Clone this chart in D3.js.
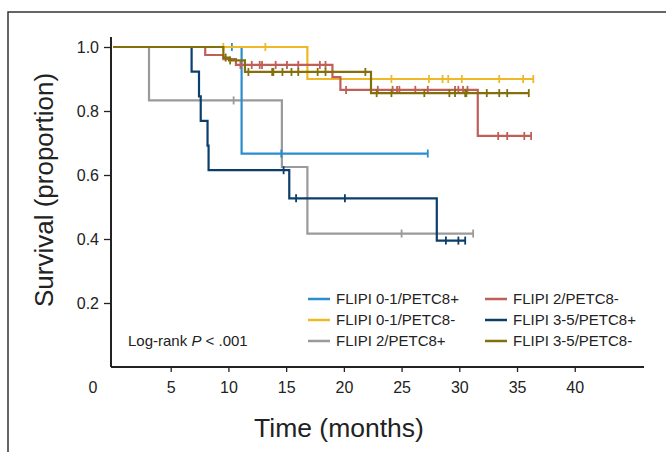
<!DOCTYPE html>
<html>
<head>
<meta charset="utf-8">
<script src="https://cdn.jsdelivr.net/npm/d3@7"></script>
<style>
  body { margin: 0; background: #fff; }
  svg text { font-family: "Liberation Sans", Arial, sans-serif; fill: #222; }
  .narrow { font-family: "Liberation Sans Narrow", "Arial Narrow", "Liberation Sans", sans-serif; }
</style>
</head>
<body>
<div id="chart"></div>
<script>
// survival steps: time (months) and proportion after each step, plus censor times
const blue_t = [0, 11.14];
const blue_s = [1, 0.667];
const blue_c = [10.3, 14.58, 27.27];

const yellow_t = [0, 16.84];
const yellow_s = [1, 0.9];
const yellow_c = [9.56, 13.2, 24.12, 27.37, 28.55, 29.04, 30.22, 33.46, 35.53, 36.41];

const grey_t = [0, 3.12, 14.63, 16.84];
const grey_s = [1, 0.833, 0.625, 0.417];
const grey_c = [10.45, 25.0, 31.2];

const red_t = [0, 7.99, 9.56, 10.65, 19.01, 19.7, 31.6];
const red_s = [1, 0.975, 0.962, 0.944, 0.906, 0.866, 0.722];
const red_c = [11.04, 12.02, 12.71, 12.91, 14.09, 15.07, 16.05, 17.92, 18.41,
  20.19, 22.94, 24.22, 24.61, 24.81, 26.19, 27.27, 29.63, 29.92, 30.32, 30.71,
  33.37, 34.15, 35.63, 36.22];

const navy_t = [0, 6.81, 7.45, 7.6, 8.19, 8.28, 15.27, 28.05];
const navy_s = [1, 0.923, 0.846, 0.769, 0.692, 0.615, 0.527, 0.395];
const navy_c = [14.78, 15.86, 20.09, 28.84, 29.92, 30.51];

const olive_t = [0, 9.56, 10.06, 11.43, 22.35];
const olive_s = [1, 0.967, 0.958, 0.922, 0.856];
const olive_c = [9.76, 10.15, 11.73, 13.79, 13.89, 14.68, 15.46, 16.05, 17.73, 18.41, 21.86,
  22.84, 24.12, 26.97, 29.14, 29.63, 30.51, 30.61, 32.38, 33.46, 34.15, 36.02];

const x_ticks = [5, 10, 15, 20, 25, 30, 35, 40];
const y_ticks = [0.2, 0.4, 0.6, 0.8, 1.0];

const series = [
  {name: 'FLIPI 2/PETC8+', color: '#9a9a9a', t: grey_t, s: grey_s, c: grey_c},
  {name: 'FLIPI 0-1/PETC8+', color: '#2a8dcf', t: blue_t, s: blue_s, c: blue_c},
  {name: 'FLIPI 0-1/PETC8-', color: '#efb826', t: yellow_t, s: yellow_s, c: yellow_c},
  {name: 'FLIPI 2/PETC8-', color: '#bf5f58', t: red_t, s: red_s, c: red_c},
  {name: 'FLIPI 3-5/PETC8+', color: '#0c3e6c', t: navy_t, s: navy_s, c: navy_c},
  {name: 'FLIPI 3-5/PETC8-', color: '#83700b', t: olive_t, s: olive_s, c: olive_c}
];
const legend_order = [
  ['FLIPI 0-1/PETC8+', 'FLIPI 0-1/PETC8-', 'FLIPI 2/PETC8+'],
  ['FLIPI 2/PETC8-', 'FLIPI 3-5/PETC8+', 'FLIPI 3-5/PETC8-']
];

const width = 666, height = 452;
const x = d3.scaleLinear().domain([0, 46]).range([113, 644]);
const y = d3.scaleLinear().domain([0, 1]).range([367, 47]);
const y_axis_x = 111;

const svg = d3.select('#chart').append('svg')
  .attr('width', width)
  .attr('height', height);

// outer frame (top and left only)
svg.append('path')
  .attr('d', 'M8,452 L8,12 L666,12')
  .attr('fill', 'none')
  .attr('stroke', '#333')
  .attr('stroke-width', 1.5);

// axes
const y_ax = svg.append('g')
  .attr('transform', 'translate(' + y_axis_x + ',0)')
  .call(d3.axisLeft(y).tickValues(y_ticks).tickSize(7).tickFormat(d3.format('.1f')));
y_ax.select('.domain').attr('d', 'M0,37 L0,' + y(0));

const x_ax = svg.append('g')
  .attr('transform', 'translate(0,' + y(0) + ')')
  .call(d3.axisBottom(x).tickValues(x_ticks).tickSize(5).tickSizeOuter(0));
x_ax.select('.domain').attr('d', 'M' + y_axis_x + ',0 L' + x.range()[1] + ',0');

svg.selectAll('.tick text').style('font-size', '16px').attr('fill', '#222');
svg.selectAll('.domain').attr('stroke', '#222').attr('stroke-width', 2);
svg.selectAll('.tick line').attr('stroke', '#222').attr('stroke-width', 1.3);
x_ax.selectAll('.tick text').attr('dy', '1.1em');
y_ax.selectAll('.tick text').attr('x', -12);

svg.append('text')
  .attr('x', 93).attr('y', y(0) + 26)
  .attr('text-anchor', 'middle')
  .style('font-size', '16px')
  .text('0');

// axis titles
svg.append('text')
  .attr('class', 'narrow')
  .attr('transform', 'translate(53,' + 190 + ') rotate(-90)')
  .attr('text-anchor', 'middle')
  .style('font-size', '26px')
  .text('Survival (proportion)');

svg.append('text')
  .attr('class', 'narrow')
  .attr('x', 339).attr('y', 437)
  .attr('text-anchor', 'middle')
  .style('font-size', '26.5px')
  .text('Time (months)');

// curves
function surv_at(d, t) {
  let v = d.s[0];
  for (let i = 0; i < d.t.length; i++) if (d.t[i] <= t) v = d.s[i];
  return v;
}

const line = d3.line()
  .x((p) => x(p[0]))
  .y((p) => y(p[1]))
  .curve(d3.curveStepAfter);

for (let d of series) {
  const end = Math.max(d3.max(d.t), d3.max(d.c));
  const pts = d.t.map((t, i) => [t, d.s[i]]);
  pts.push([end, d.s[d.s.length - 1]]);

  const g = svg.append('g').attr('class', 'km_group');
  g.append('path')
    .attr('d', line(pts))
    .attr('fill', 'none')
    .attr('stroke', d.color)
    .attr('stroke-width', 2.2);

  g.selectAll('.censor')
    .data(d.c)
    .enter()
    .append('line')
      .attr('class', 'censor')
      .attr('x1', (c) => x(c))
      .attr('x2', (c) => x(c))
      .attr('y1', (c) => y(surv_at(d, c)) - 4)
      .attr('y2', (c) => y(surv_at(d, c)) + 4)
      .attr('stroke', d.color)
      .attr('stroke-width', 1.8);
}

// legend
const color_of = {};
for (let d of series) color_of[d.name] = d.color;
const leg_x = [308, 485];
const leg_y = [299, 320, 341];
legend_order.forEach((col, ci) => {
  col.forEach((name, ri) => {
    svg.append('line')
      .attr('x1', leg_x[ci]).attr('x2', leg_x[ci] + 22)
      .attr('y1', leg_y[ri]).attr('y2', leg_y[ri])
      .attr('stroke', color_of[name])
      .attr('stroke-width', 2.5);
    svg.append('text')
      .attr('x', leg_x[ci] + 28).attr('y', leg_y[ri])
      .attr('dy', '0.36em')
      .style('font-size', '15px')
      .text(name);
  });
});

const lr = svg.append('text')
  .attr('x', 128).attr('y', 341)
  .attr('dy', '0.36em')
  .style('font-size', '15px');
lr.append('tspan').text('Log-rank ');
lr.append('tspan').style('font-style', 'italic').text('P');
lr.append('tspan').text(' < .001');
</script>
</body>
</html>
